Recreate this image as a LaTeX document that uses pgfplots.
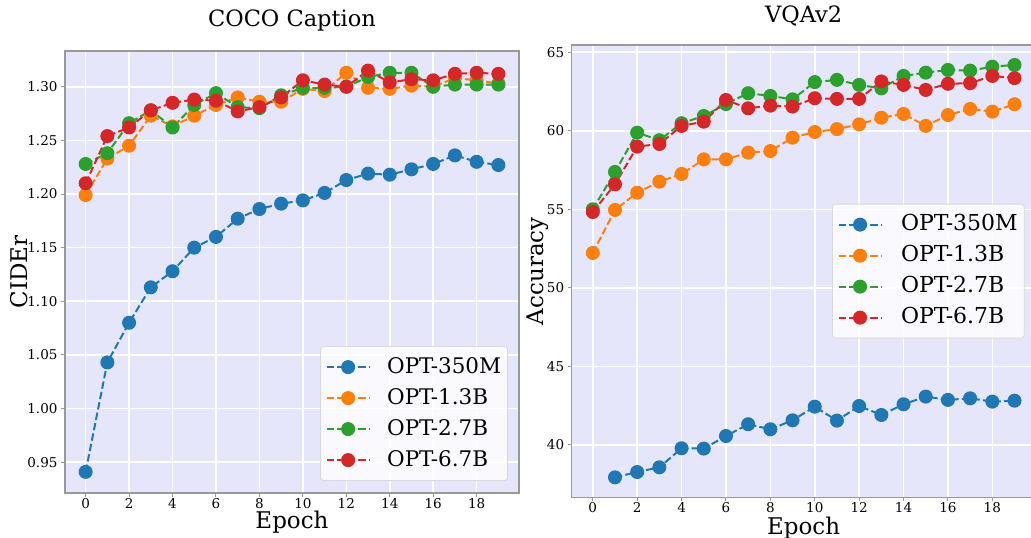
\documentclass[border=0pt]{standalone}
\usepackage{fontspec}
\setmainfont{DejaVu Serif}
\usepackage{pgfplots}
\pgfplotsset{compat=1.18}
\definecolor{c1}{HTML}{1F77B4}
\definecolor{c2}{HTML}{FF7F0E}
\definecolor{c3}{HTML}{2CA02C}
\definecolor{c4}{HTML}{D62728}
\definecolor{bg}{HTML}{E6E6FA}
\pgfplotsset{
  every axis title shift=0pt,
  myaxis/.style={
    scale only axis,
    axis background/.style={fill=bg},
    axis line style={draw=black!40, line width=1.2pt},
    grid=major,
    major grid style={white, line width=1.6pt},
    tick align=outside,
    tick pos=left,
    major tick length=4pt,
    tick style={black!40, line width=1pt},
    ticklabel style={font=\fontsize{13.5}{15}\selectfont},
    xticklabel style={yshift=2.5pt},
    /pgf/number format/assume math mode=true,
    xmin=-0.95, xmax=19.95,
    xtick={0,2,...,18},
    label style={font=\fontsize{23}{26}\selectfont},
    title style={font=\fontsize{22.5}{25}\selectfont, anchor=base},
    xlabel style={anchor=base},
    ylabel style={anchor=base},
    legend style={font=\fontsize{21.5}{24}\selectfont, draw=black!15, fill=white,
      fill opacity=0.8, text opacity=1, rounded corners=3pt, line width=0.8pt,
      inner xsep=5pt, inner ysep=9pt, row sep=8pt, column sep=15pt,
      nodes={inner sep=1.5pt, text height=16pt, text depth=4pt}},
    legend cell align=left,
    legend image code/.code={\draw[mark repeat=2,mark phase=2,#1,opacity=1] plot coordinates {(0pt,0pt) (21.5pt,0pt) (43pt,0pt)};},
    every axis plot/.append style={line width=2pt, dash pattern=on 7.4pt off 3.2pt, mark=*, mark size=6pt},
  }
}
\begin{document}
\begin{tikzpicture}
\useasboundingbox (0,0) rectangle (1031pt,538pt);
\begin{axis}[myaxis,
  at={(65pt,45pt)}, anchor=south west,
  width=454pt, height=442pt,
  ymin=0.9213, ymax=1.3333,
  ytick={0.95,1.00,1.05,1.10,1.15,1.20,1.25,1.30},
  yticklabel style={/pgf/number format/.cd, fixed, fixed zerofill, precision=2},
  title={COCO Caption},
  title style={at={(axis description cs:0.5,1.0543)}},
  xlabel={Epoch},
  xlabel style={at={(axis description cs:0.5,-0.0814)}},
  ylabel={CIDEr},
  ylabel style={at={(axis description cs:-0.0837,0.5)}},
  legend style={at={(axis description cs:1,0)}, anchor=south east, xshift=-11pt, yshift=12pt},
]
\addplot[c1, mark options={solid, fill=c1, draw=none}] table {
x y
0 0.941
1 1.043
2 1.080
3 1.113
4 1.128
5 1.150
6 1.160
7 1.177
8 1.186
9 1.191
10 1.194
11 1.201
12 1.213
13 1.219
14 1.218
15 1.223
16 1.228
17 1.236
18 1.230
19 1.227
};
\addlegendentry{OPT-350M}
\addplot[c2, mark options={solid, fill=c2, draw=none}] table {
x y
0 1.199
1 1.233
2 1.245
3 1.273
4 1.263
5 1.273
6 1.283
7 1.290
8 1.286
9 1.286
10 1.298
11 1.296
12 1.313
13 1.299
14 1.298
15 1.301
16 1.300
17 1.308
18 1.306
19 1.303
};
\addlegendentry{OPT-1.3B}
\addplot[c3, mark options={solid, fill=c3, draw=none}] table {
x y
0 1.228
1 1.238
2 1.266
3 1.278
4 1.262
5 1.283
6 1.294
7 1.281
8 1.280
9 1.292
10 1.299
11 1.299
12 1.300
13 1.309
14 1.313
15 1.313
16 1.300
17 1.302
18 1.302
19 1.302
};
\addlegendentry{OPT-2.7B}
\addplot[c4, mark options={solid, fill=c4, draw=none}] table {
x y
0 1.210
1 1.254
2 1.262
3 1.278
4 1.285
5 1.288
6 1.287
7 1.277
8 1.281
9 1.290
10 1.306
11 1.302
12 1.300
13 1.315
14 1.304
15 1.307
16 1.306
17 1.312
18 1.313
19 1.312
};
\addlegendentry{OPT-6.7B}
\end{axis}
\begin{axis}[myaxis,
  at={(571.7pt,40.7pt)}, anchor=south west,
  width=463.9pt, height=452.3pt,
  ymin=36.67, ymax=65.46,
  ytick={40,45,50,55,60,65},
  title={VQAv2},
  title style={at={(axis description cs:0.5,1.0508)}},
  xlabel={Epoch},
  xlabel style={at={(axis description cs:0.5,-0.0818)}},
  ylabel={Accuracy},
  ylabel style={at={(axis description cs:-0.0612,0.5)}},
  legend style={at={(axis description cs:1,0.5)}, anchor=east, xshift=-11pt,
    font=\fontsize{22}{24}\selectfont, column sep=17pt},
]
\addplot[c1, mark options={solid, fill=c1, draw=none}] table {
x y
1 37.94
2 38.28
3 38.58
4 39.79
5 39.77
6 40.57
7 41.32
8 41.00
9 41.57
10 42.44
11 41.55
12 42.48
13 41.91
14 42.59
15 43.08
16 42.87
17 42.97
18 42.76
19 42.82
};
\addlegendentry{OPT-350M}
\addplot[c2, mark options={solid, fill=c2, draw=none}] table {
x y
0 52.22
1 54.96
2 56.06
3 56.76
4 57.25
5 58.18
6 58.18
7 58.61
8 58.71
9 59.56
10 59.92
11 60.11
12 60.41
13 60.83
14 61.07
15 60.31
16 61.00
17 61.39
18 61.22
19 61.69
};
\addlegendentry{OPT-1.3B}
\addplot[c3, mark options={solid, fill=c3, draw=none}] table {
x y
0 55.00
1 57.38
2 59.88
3 59.40
4 60.48
5 60.94
6 61.70
7 62.39
8 62.22
9 62.00
10 63.10
11 63.24
12 62.92
13 62.70
14 63.49
15 63.70
16 63.87
17 63.83
18 64.08
19 64.19
};
\addlegendentry{OPT-2.7B}
\addplot[c4, mark options={solid, fill=c4, draw=none}] table {
x y
0 54.83
1 56.59
2 58.99
3 59.16
4 60.31
5 60.58
6 61.96
7 61.43
8 61.60
9 61.54
10 62.07
11 62.03
12 62.03
13 63.14
14 62.92
15 62.60
16 62.99
17 63.03
18 63.49
19 63.35
};
\addlegendentry{OPT-6.7B}
\end{axis}
\end{tikzpicture}
\end{document}
